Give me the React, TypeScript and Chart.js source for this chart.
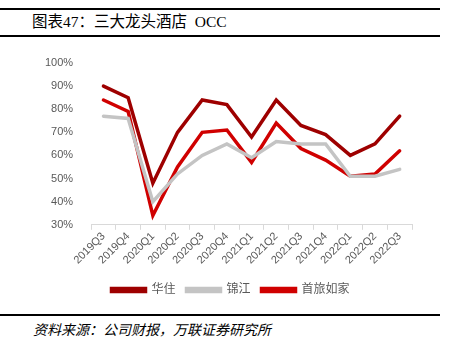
import React, { useEffect, useRef } from "react";
import { Chart, registerables } from "chart.js";

Chart.register(...registerables);

const categories = ["2019Q3","2019Q4","2020Q1","2020Q2","2020Q3","2020Q4","2021Q1","2021Q2","2021Q3","2021Q4","2022Q1","2022Q2","2022Q3"];
const huazhu = [90, 85, 48, 70, 84, 82, 68, 84, 73, 69, 60, 65, 77];
const jinjiang = [77, 76, 40, 52, 60, 65, 59, 66, 65, 65, 51, 51, 54];
const shoulv = [84, 79, 34, 55, 70, 71, 57, 74, 63, 58, 51, 52, 62];
const seriesNames = ["华住", "锦江", "首旅如家"];
const yTicks = [30, 40, 50, 60, 70, 80, 90, 100];

const SANS = "Arial, 'Liberation Sans', 'Noto Sans CJK SC', sans-serif";
const SERIF = "'Times New Roman', 'Liberation Serif', 'Noto Sans CJK SC', serif";

const legendShift = {
  id: "legendShift",
  afterLayout(chart: any) {
    const lg = chart.legend;
    if (lg) { lg.left += 7; lg.right += 7; }
  },
};

export default function App() {
  const ref = useRef<HTMLCanvasElement | null>(null);
  useEffect(() => {
    document.body.style.margin = "0";
    const ctx = ref.current!;
    const chart = new Chart(ctx, {
      type: "line",
      data: {
        labels: categories,
        datasets: [
          { label: seriesNames[0], data: huazhu, borderColor: "#9E0000", backgroundColor: "#9E0000" },
          { label: seriesNames[1], data: jinjiang, borderColor: "#C4C4C4", backgroundColor: "#C4C4C4" },
          { label: seriesNames[2], data: shoulv, borderColor: "#D00000", backgroundColor: "#D00000" },
        ].map((d) => ({ ...d, borderWidth: 3.5, pointRadius: 0, tension: 0, borderCapStyle: "round" as const, borderJoinStyle: "miter" as const })),
      },
      plugins: [legendShift],
      options: {
        animation: false,
        responsive: false,
        maintainAspectRatio: false,
        layout: { padding: { left: 35, right: 45, top: 23, bottom: 0 } },
        plugins: {
          legend: {
            position: "bottom",
            title: { display: true, text: "", font: { size: 1 }, padding: { top: 2.5, bottom: 2.5 } },
            labels: {
              boxWidth: 34,
              boxHeight: 3,
              color: "#595959",
              font: { family: SANS, size: 12 },
              padding: 11,
            },
          },
          tooltip: { enabled: false },
        },
        scales: {
          x: {
            offset: true,
            grid: { display: true, drawOnChartArea: false, tickLength: 5, color: "#D9D9D9", offset: true },
            border: { display: true, color: "#D9D9D9" },
            ticks: { color: "#595959", font: { family: SANS, size: 11 }, maxRotation: 45, minRotation: 45, padding: 0 },
          },
          y: {
            min: 30,
            max: 100,
            afterBuildTicks: (axis: any) => { axis.ticks = yTicks.map((v) => ({ value: v })); },
            grid: { display: false },
            border: { display: false },
            ticks: { color: "#595959", font: { family: SANS, size: 11 }, padding: 10, callback: (v: any) => v + "%" },
          },
        },
      },
    });
    return () => chart.destroy();
  }, []);

  return (
    <div style={{ position: "relative", width: 457, height: 356, background: "#fff", overflow: "hidden" }}>
      <div style={{ position: "absolute", left: 0, top: 8, width: 440, height: 2, background: "#000" }} />
      <div style={{ position: "absolute", left: 32, top: 10, fontFamily: SERIF, fontSize: 15.5, lineHeight: "24px", color: "#000", whiteSpace: "pre" }}>
        {"图表47：三大龙头酒店  OCC"}
      </div>
      <div style={{ position: "absolute", left: 0, top: 35, width: 440, height: 2, background: "#000" }} />
      <canvas ref={ref} width={457} height={266} style={{ position: "absolute", left: 0, top: 40, width: 457, height: 266 }} />
      <div style={{ position: "absolute", left: 0, top: 314, width: 440, height: 2, background: "#000" }} />
      <div style={{ position: "absolute", left: 33, top: 320, fontFamily: SERIF, fontSize: 14, fontStyle: "italic", lineHeight: "22px", color: "#000" }}>
        资料来源：公司财报，万联证券研究所
      </div>
    </div>
  );
}
